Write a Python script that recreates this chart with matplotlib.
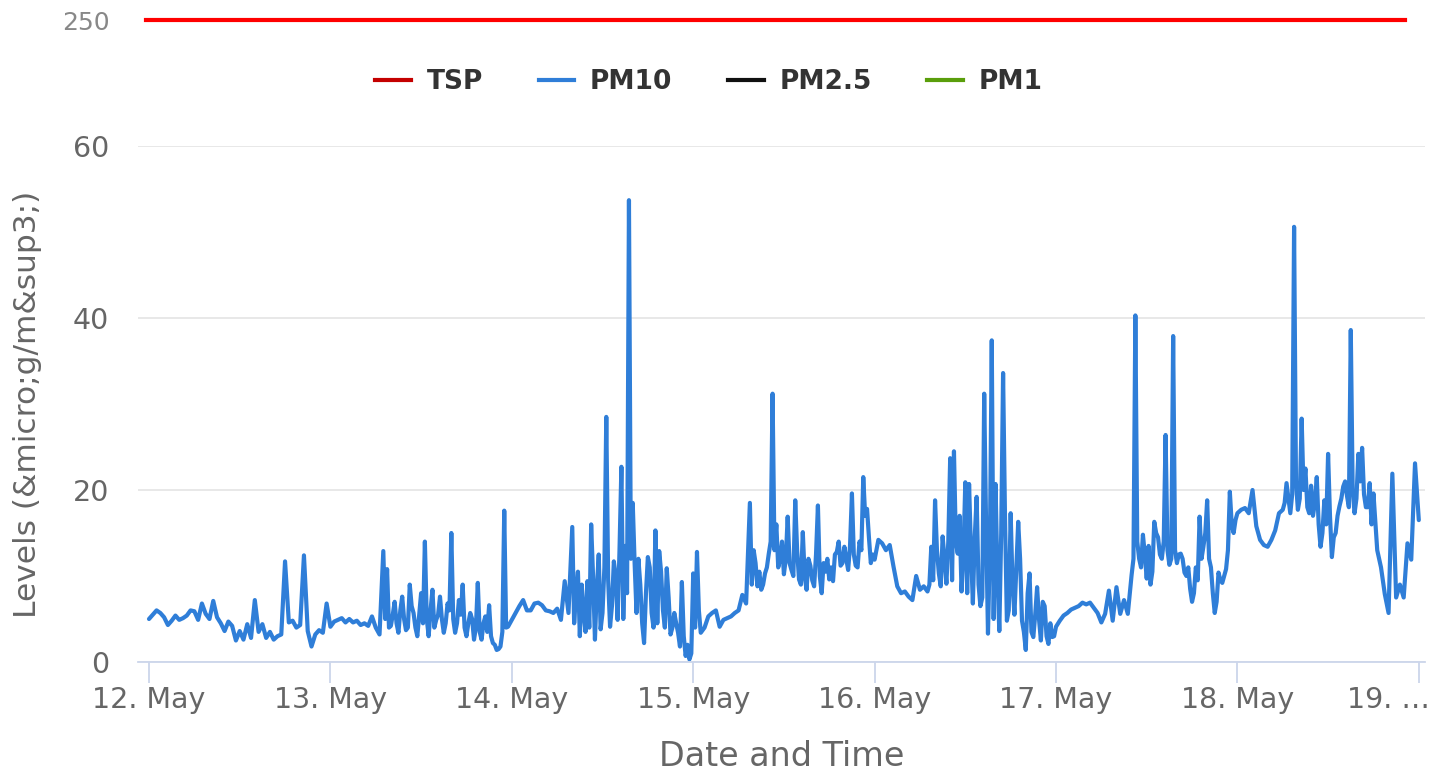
import pandas as pd
import matplotlib
matplotlib.use("Agg")
import matplotlib.pyplot as plt
import matplotlib.dates as mdates
import matplotlib.transforms as mtransforms

# PM10 readings, one value every 30 minutes from 12 May 00:00
start_time = "2015-05-12 00:00"
pm10_day1 = [5.0, 5.5, 6.0, 5.7, 5.2, 4.3, 4.8, 5.4, 4.9, 5.1, 5.4, 6.0, 5.9, 4.9, 6.8, 5.6,
             5.0, 7.1, 5.2, 4.5, 3.6, 4.7, 4.2, 2.5, 3.6, 2.6, 4.4, 2.8, 7.2, 3.5, 4.4, 2.8,
             3.5, 2.6, 3.0, 3.2, 11.7, 4.6, 4.8, 4.0, 4.3, 12.4, 3.6, 1.8, 3.2, 3.7, 3.4, 6.8]
pm10_day2 = [4.1, 4.7, 4.9, 5.1, 4.6, 5.0, 4.6, 4.8, 4.3, 4.5, 4.2, 5.3, 4.0, 3.2, 12.9, 10.8,
             4.2, 7.0, 3.4, 7.6, 3.7, 9.0, 5.7, 3.0, 8.0, 14.0, 3.0, 8.4, 4.9, 7.6, 3.4, 6.8,
             15.0, 3.4, 7.2, 9.0, 3.0, 5.7, 2.6, 9.2, 2.6, 5.3, 6.6, 2.2, 1.4, 1.8, 17.6, 4.1]
pm10_day3 = [4.9, 5.7, 6.5, 7.2, 6.0, 6.0, 6.8, 6.9, 6.6, 6.0, 5.9, 5.7, 6.2, 4.9, 9.4, 5.7,
             15.7, 8.0, 3.0, 5.7, 9.4, 16.0, 2.6, 12.5, 5.7, 28.5, 4.1, 11.7, 4.9, 22.7, 13.5, 53.7,
             18.5, 5.7, 9.0, 2.2, 12.2, 5.7, 15.3, 12.9, 6.0, 10.9, 3.2, 5.7, 3.4, 9.3, 0.7, 0.3]
pm10_day4 = [10.3, 12.8, 3.4, 4.0, 5.3, 5.7, 6.0, 4.1, 4.9, 5.1, 5.3, 5.7, 6.0, 7.8, 6.8, 18.5,
             13.0, 8.8, 8.4, 10.3, 12.6, 31.2, 16.0, 12.0, 10.2, 16.9, 10.7, 18.8, 9.6, 15.1, 8.4, 11.2,
             8.8, 18.2, 8.0, 10.5, 9.6, 9.4, 12.8, 11.2, 13.4, 10.7, 19.6, 11.2, 14.0, 21.5, 17.8, 11.5]
pm10_day5 = [11.9, 14.2, 13.8, 13.0, 13.6, 11.1, 8.8, 8.0, 8.2, 7.6, 7.2, 10.0, 8.4, 8.8, 8.2, 13.4,
             18.8, 10.3, 14.6, 9.1, 23.7, 24.5, 12.6, 8.2, 20.9, 20.7, 6.8, 19.2, 6.5, 31.2, 3.3, 37.4,
             20.7, 3.6, 33.6, 4.8, 17.3, 5.5, 16.3, 4.8, 1.4, 10.3, 2.9, 8.7, 2.5, 6.5, 2.1, 2.9]
pm10_day6 = [4.1, 4.8, 5.4, 5.7, 6.1, 6.3, 6.5, 6.9, 6.7, 6.9, 6.3, 5.7, 4.6, 5.6, 8.3, 4.8,
             8.7, 5.6, 7.2, 5.6, 10.1, 40.3, 12.0, 14.8, 9.7, 9.0, 16.3, 14.5, 12.0, 26.4, 11.3, 37.9,
             11.5, 12.6, 10.4, 11.0, 7.0, 11.0, 16.9, 13.4, 18.8, 11.0, 5.7, 10.4, 9.2, 10.8, 19.8, 15.0]
pm10_day7 = [17.3, 17.7, 17.9, 17.3, 20.0, 15.8, 14.2, 13.6, 13.4, 14.2, 15.3, 17.3, 17.7, 20.8, 17.3, 50.6,
             17.7, 28.3, 22.5, 17.3, 17.0, 21.5, 13.4, 18.8, 24.2, 12.2, 15.0, 18.1, 20.4, 19.3, 38.6, 17.3,
             24.2, 24.9, 18.0, 20.8, 19.6, 13.0, 11.0, 7.9, 5.7, 21.9, 7.5, 9.0, 7.5, 13.8, 11.9, 23.1]
pm10_last = [16.5]

# extra readings at :15 / :45 in the busy stretches (also every 30 minutes)
fill_13may_start = "2015-05-13 07:15"
fill_13may = [5.0, 4.0, 5.5, 4.5, 6.0, 5.0, 4.0, 6.5, 4.0, 5.5, 4.5, 5.0, 6.0, 4.0, 5.5, 5.0, 4.5,
              6.0, 5.0, 4.5, 5.5, 4.0, 4.5, 5.0, 4.0, 3.5, 4.5, 3.5, 3.0, 2.0, 1.5, 3.5, 4.0, 4.5]
fill_14may_start = "2015-05-14 08:15"
fill_14may = [4.5, 10.5, 9.0, 3.5, 4.0, 10.0, 8.5, 3.8, 11.0, 9.5, 6.5, 10.0, 13.0, 5.0, 8.0, 12.0, 11.5,
              12.0, 4.5, 8.0, 11.0, 4.0, 4.5, 10.5, 4.0, 7.5, 4.0, 4.5, 1.8, 3.0, 2.0, 1.0, 4.0, 6.0]
fill_15may_start = "2015-05-15 07:45"
fill_15may = [9.0, 11.5, 10.5, 9.0, 11.0, 14.0, 13.0, 11.0, 14.0, 12.0, 11.5, 10.0, 13.0, 9.0, 10.0, 12.0, 9.5,
              12.5, 10.0, 11.5, 12.0, 11.0, 12.5, 14.0, 11.5, 12.0, 13.5, 12.5, 11.0, 13.0, 17.0, 14.5, 12.5]
fill_16may_start = "2015-05-16 07:15"
fill_16may = [9.0, 9.5, 13.0, 8.8, 12.0, 14.0, 9.5, 14.0, 17.0, 12.5, 8.0, 13.0, 14.5, 9.0, 7.5, 16.0, 13.0,
              5.0, 10.0, 15.0, 17.0, 6.0, 9.0, 11.0, 12.0, 3.5, 8.0, 3.5, 5.5, 5.0, 7.0, 3.0, 4.5, 3.0]
fill_17may_start = "2015-05-17 10:15"
fill_17may = [12.0, 14.0, 11.0, 12.5, 13.5, 10.5, 15.0, 12.5, 14.0, 13.0, 12.0, 13.0, 12.5, 12.0,
              10.0, 8.5, 8.0, 9.5, 12.0, 15.0, 12.0, 8.0, 7.0, 9.5, 10.0, 13.0, 16.0, 16.5]
fill_18may_start = "2015-05-18 06:15"
fill_18may = [18.5, 19.0, 19.5, 21.0, 19.0, 20.0, 18.0, 20.5, 18.5, 16.0, 15.0, 16.0,
              17.0, 14.5, 17.0, 19.0, 21.0, 18.0, 20.0, 19.0, 21.0, 19.5, 18.0, 16.0]

# series with no visible data in this window
tsp_values = []
pm25_values = []
pm1_values = []

tsp_limit = 250
y_ticks = [0, 20, 40, 60]
tick_days = pd.date_range("2015-05-12", "2015-05-19", freq="D")
tick_labels = ["12. May", "13. May", "14. May", "15. May", "16. May", "17. May", "18. May", "19. …"]

pm10 = pm10_day1 + pm10_day2 + pm10_day3 + pm10_day4 + pm10_day5 + pm10_day6 + pm10_day7 + pm10_last
parts = [pd.Series(pm10, index=pd.date_range(start_time, periods=len(pm10), freq="30min"))]
for st, vals in [(fill_13may_start, fill_13may), (fill_14may_start, fill_14may),
                 (fill_15may_start, fill_15may), (fill_16may_start, fill_16may),
                 (fill_17may_start, fill_17may), (fill_18may_start, fill_18may)]:
    parts.append(pd.Series(vals, index=pd.date_range(st, periods=len(vals), freq="30min")))
series = pd.concat(parts).sort_index()

W, H = 1441, 774
fig = plt.figure(figsize=(W / 100, H / 100), dpi=100)

# main plot area in pixels: x 138..1425, y 146..662
ax = fig.add_axes([138 / W, (H - 662) / H, (1425 - 138) / W, (662 - 146) / H])
ax.plot(series.index, series.values, color="#2f7ed8", lw=3.0, solid_joinstyle="round", solid_capstyle="round")
h_tsp, = ax.plot(tsp_values, tsp_values, color="#c40000", lw=3, label="TSP")
h_pm10, = ax.plot([], [], color="#2f7ed8", lw=3, label="PM10")
h_pm25, = ax.plot(pm25_values, pm25_values, color="#111111", lw=3, label="PM2.5")
h_pm1, = ax.plot(pm1_values, pm1_values, color="#5a9e0b", lw=3, label="PM1")

day0 = mdates.date2num(pd.Timestamp("2015-05-12"))
px_per_day = 181.4
ax.set_xlim(day0 + (138 - 149) / px_per_day, day0 + (1425 - 149) / px_per_day)
ax.set_ylim(0, 60)

ax.set_yticks(y_ticks)
ax.set_yticklabels([str(v) for v in y_ticks])
ax.set_xticks(mdates.date2num(tick_days))
ax.set_xticklabels(tick_labels)
ax.grid(axis="y", color="#e6e6e6", lw=1.3)
ax.set_axisbelow(True)
for s in ["top", "right", "left"]:
    ax.spines[s].set_visible(False)
ax.spines["bottom"].set_color("#ccd6eb")
ax.spines["bottom"].set_linewidth(1.3)
ax.tick_params(axis="y", length=0, pad=21, labelsize=20.5, labelcolor="#666666")
ax.tick_params(axis="x", length=15, width=1.3, color="#ccd6eb", pad=2, labelsize=20.5, labelcolor="#666666")

# the last label is cut short, shift it left like the original
last = ax.get_xticklabels()[-1]
last.set_transform(last.get_transform() + mtransforms.ScaledTranslation(-30 / 100, 0, fig.dpi_scale_trans))

ax.set_xlabel("Date and Time", fontsize=24, color="#666666")
ax.xaxis.set_label_coords(0.5, (662 - 757) / 516)
ax.xaxis.label.set_verticalalignment("center")
ax.set_ylabel("Levels (&micro;g/m&sup3;)", fontsize=22.5, color="#666666")
ax.yaxis.set_label_coords((28 - 138) / 1287, 0.5)
ax.yaxis.label.set_verticalalignment("center")

# TSP limit strip at the top
ax_top = fig.add_axes([138 / W, (H - 30) / H, (1425 - 138) / W, 20 / H])
ax_top.set_ylim(240, 260)
ax_top.axhline(tsp_limit, xmin=(146 - 138) / 1287, xmax=(1405 - 138) / 1287, color="#ff0000", lw=3)
ax_top.set_xticks([])
ax_top.set_yticks([tsp_limit])
ax_top.set_yticklabels([str(tsp_limit)])
ax_top.tick_params(axis="y", length=0, pad=20, labelsize=18, labelcolor="#888888")
for s in ax_top.spines.values():
    s.set_visible(False)
ax_top.patch.set_alpha(0)

leg = fig.legend([h_tsp, h_pm10, h_pm25, h_pm1], ["TSP", "PM10", "PM2.5", "PM1"],
                 loc="center", bbox_to_anchor=(709 / W, 1 - 82 / H), ncol=4, frameon=False,
                 handlelength=1.35, handletextpad=0.6, columnspacing=2.1,
                 prop={"weight": "bold", "size": 19})
for t in leg.get_texts():
    t.set_color("#333333")

fig.savefig("out.png", dpi=100)
